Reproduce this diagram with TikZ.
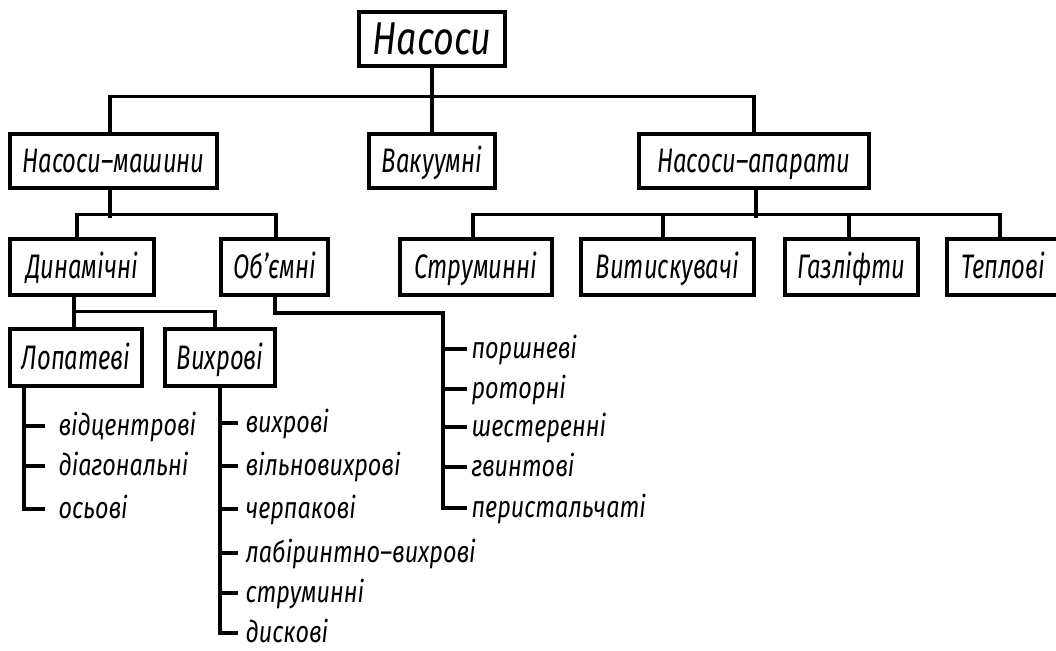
\documentclass[tikz,border=0pt]{standalone}
\usepackage{fontspec}
\newfontfamily\titlefam{Fira Sans}[FakeStretch=0.78]
\newfontfamily\boxfam{Fira Sans}[FakeStretch=0.70]
\newfontfamily\leaffam{Fira Sans}[FakeStretch=0.78]
\begin{document}
\begin{tikzpicture}[x=1pt,y=-1pt,
  every path/.style={line width=3.1pt},
  cls/.style={draw, line width=3.1pt, inner sep=0pt, minimum height=54pt,
    text height=23pt, text depth=0pt,
    font=\boxfam\itshape\fontsize{34}{34}\selectfont},
  toplevel/.style={cls, text height=32pt,
    font=\titlefam\itshape\fontsize{46}{46}\selectfont},
  leaf/.style={anchor=west, inner ysep=0pt, text height=18pt, text depth=0pt,
    font=\leaffam\itshape\fontsize{30}{30}\selectfont},
]
\useasboundingbox (0,0) rectangle (1056,650);

% boxes
\node[toplevel, minimum width=146pt] (root) at (432,39) {Насоси};
\node[cls, minimum width=207pt] (nm)  at (113.5,161) {Насоси–машини};
\node[cls, minimum width=126pt] (vac) at (432,161)   {Вакуумні};
\node[cls, minimum width=230pt] (na)  at (754,161)   {Насоси–апарати};

\node[cls, minimum width=144pt, minimum height=56pt] (dyn) at (82,267)    {Динамічні};
\node[cls, minimum width=107pt, minimum height=56pt] (vol) at (274.5,267) {Об’ємні};
\node[cls, minimum width=152pt, minimum height=56pt] (str) at (476,267)   {Струминні};
\node[cls, minimum width=173pt, minimum height=56pt] (vyt) at (667.5,267) {Витискувачі};
\node[cls, minimum width=133pt, minimum height=56pt] (gaz) at (851.5,267) {Газліфти};
\node[cls, minimum width=112pt, minimum height=56pt] (tep) at (1003,267)  {Теплові};

\node[cls, minimum width=132pt, minimum height=57pt] (lop) at (76,357.5)  {Лопатеві};
\node[cls, minimum width=110pt, minimum height=57pt] (vyh) at (220,357.5) {Вихрові};

% top level
\draw (root.south) -- (vac.north);
\draw ([xshift=-3.5pt]nm.north) -- ++(0,-36) -| (na.north);

% second level
\draw ([xshift=-3.5pt]nm.south) -- ++(0,28);
\draw ([xshift=-5pt]dyn.north) -- ++(0,-23) -| ([xshift=1.5pt]vol.north);
\draw ([xshift=2pt]na.south) -- ++(0,28);
\draw ([xshift=-3pt]str.north) -- ++(0,-23) -| ([xshift=-3pt]tep.north);
\draw ([xshift=-4.5pt]vyt.north) -- ++(0,-23);
\draw ([xshift=-2.5pt]gaz.north) -- ++(0,-23);

% third level
\draw ([xshift=-8pt]dyn.south) -- ([xshift=-2pt]lop.north);
\draw ([xshift=-2pt]lop.north) -- ++(0,-16) -| ([xshift=-5pt]vyh.north);

% leaves of the vane pumps
\node[leaf, inner xsep=12pt] (l1) at (45,426) {відцентрові};
\node[leaf, inner xsep=12pt] (l2) at (45,466) {діагональні};
\node[leaf, inner xsep=12pt] (l3) at (45,509) {осьові};
\coordinate (lopx) at ([xshift=-52pt]lop.south);
\draw (lopx) |- (l3.west);
\foreach \n in {l1,l2} \draw (lopx |- \n.west) -- (\n.west);

% leaves of the vortex pumps
\node[leaf, inner xsep=6pt] (v1) at (238,423) {вихрові};
\node[leaf, inner xsep=6pt] (v2) at (238,466) {вільновихрові};
\node[leaf, inner xsep=6pt] (v3) at (238,509) {черпакові};
\node[leaf, inner xsep=6pt] (v4) at (238,553) {лабіринтно–вихрові};
\node[leaf, inner xsep=6pt] (v5) at (238,593) {струминні};
\node[leaf, inner xsep=6pt] (v6) at (238,633) {дискові};
\draw (vyh.south) |- (v6.west);
\foreach \n in {v1,v2,v3,v4,v5} \draw (vyh.south |- \n.west) -- (\n.west);

% leaves of the positive-displacement pumps
\node[leaf, inner xsep=3pt] (o1) at (467,349) {поршневі};
\node[leaf, inner xsep=3pt] (o2) at (467,389) {роторні};
\node[leaf, inner xsep=3pt] (o3) at (467,427) {шестеренні};
\node[leaf, inner xsep=3pt] (o4) at (467,467) {гвинтові};
\node[leaf, inner xsep=3pt] (o5) at (467,508) {перистальчаті};
\coordinate (volbus) at (443,313);
\draw ([xshift=0.5pt]vol.south) |- (volbus) |- (o5.west);
\foreach \n in {o1,o2,o3,o4} \draw (volbus |- \n.west) -- (\n.west);
\end{tikzpicture}
\end{document}
